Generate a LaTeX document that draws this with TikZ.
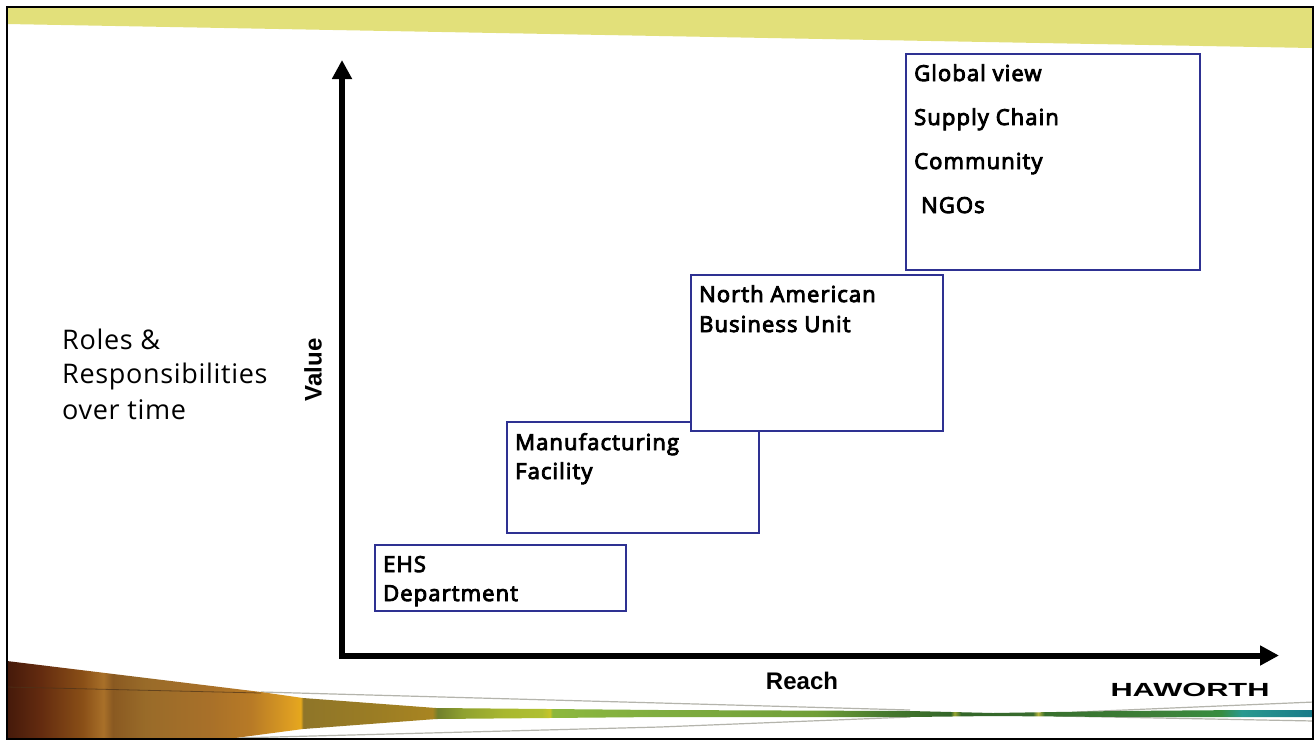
\documentclass[tikz,border=0pt]{standalone}
\usepackage{fontspec}
\usetikzlibrary{arrows.meta}
\setmainfont{Open Sans}
\newfontfamily\labelfont{Liberation Sans}
\newfontfamily\boxfont[FakeBold=4,LetterSpace=5]{Open Sans}
\newfontfamily\sidefont[LetterSpace=2.5]{Open Sans}
\definecolor{boxblue}{HTML}{2E3192}
\definecolor{topband}{HTML}{E2E07A}
\definecolor{wireg}{HTML}{B4B4AC}
\pgfdeclarehorizontalshading{bandshade}{100bp}{%
rgb(0bp)=(0.27,0.10,0.04);
rgb(25bp)=(0.27,0.10,0.04);
rgb(26.3bp)=(0.39,0.17,0.06);
rgb(27.9bp)=(0.54,0.31,0.09);
rgb(28.7bp)=(0.66,0.44,0.16);
rgb(29.05bp)=(0.54,0.35,0.13);
rgb(30.3bp)=(0.60,0.42,0.16);
rgb(32.75bp)=(0.66,0.44,0.16);
rgb(34.35bp)=(0.72,0.48,0.15);
rgb(36bp)=(0.88,0.63,0.13);
rgb(36.25bp)=(0.90,0.66,0.11);
rgb(36.35bp)=(0.56,0.46,0.16);
rgb(39.2bp)=(0.61,0.49,0.14);
rgb(41.3bp)=(0.66,0.52,0.13);
rgb(41.5bp)=(0.44,0.50,0.17);
rgb(42.45bp)=(0.56,0.63,0.19);
rgb(44.05bp)=(0.66,0.72,0.19);
rgb(45.5bp)=(0.69,0.75,0.19);
rgb(45.8bp)=(0.78,0.77,0.16);
rgb(45.9bp)=(0.55,0.72,0.24);
rgb(50bp)=(0.50,0.68,0.25);
rgb(56bp)=(0.44,0.62,0.22);
rgb(58.5bp)=(0.28,0.48,0.18);
rgb(61.15bp)=(0.20,0.40,0.16);
rgb(61.3bp)=(0.60,0.65,0.20);
rgb(61.55bp)=(0.20,0.40,0.16);
rgb(64.3bp)=(0.22,0.42,0.18);
rgb(64.5bp)=(0.70,0.70,0.24);
rgb(64.75bp)=(0.22,0.44,0.18);
rgb(69bp)=(0.24,0.50,0.22);
rgb(71.5bp)=(0.22,0.55,0.25);
rgb(72.3bp)=(0.16,0.60,0.56);
rgb(75bp)=(0.10,0.48,0.54);
rgb(100bp)=(0.10,0.48,0.54)}
\tikzset{
  stepbox/.style={draw=boxblue,line width=1.5pt,fill=white},
  axisline/.style={line width=6pt,{Triangle[length=19pt,width=19pt]}-{Triangle[length=19pt,width=19pt]}},
  boxtext/.style={anchor=base west,inner sep=0pt,font=\boxfont\fontsize{22}{29}\selectfont},
  sidetext/.style={anchor=base west,inner sep=0pt,font=\sidefont\fontsize{27}{35}\selectfont},
  axislabel/.style={inner sep=0pt,font=\labelfont\fontsize{24}{25}\selectfont\bfseries},
  wire/.style={draw=wireg,line width=1.2pt}
}
\begin{document}
\begin{tikzpicture}[x=1pt,y=-1pt]
\useasboundingbox (0,0) rectangle (1314,740);
\fill[white] (0,0) rectangle (1314,740);
% top band
\fill[topband] (7,6) -- (1312,6) -- (1312,48) -- (7,24) -- cycle;
% thin lines
\draw[wire] (261,692) -- (660,703) -- (910,710);
\draw[wire] (235,738) -- (660,727) -- (910,717);
\draw[wire] (1077,712) -- (1314,702);
\draw[wire] (1056,716) -- (1314,721);
% bottom band
\begin{scope}
\clip (7,661) -- (261,692) -- (303,698) -- (436,708) -- (660,710) -- (910,711) -- (993,713) -- (1118,711) -- (1243,710) -- (1312,710)
  -- (1312,717) -- (1243,717) -- (1118,717) -- (993,716) -- (910,717) -- (660,717) -- (436,719) -- (303,729) -- (235,738) -- (7,738) -- cycle;
\shade[shading=bandshade] (7,655) rectangle (1312,740);
\draw[black!60!brown,opacity=.7,line width=.8pt] (7,687) -- (261,693);
\end{scope}
% frame
\draw[black,line width=2pt] (7,6.5) -- (1312.5,6.5) -- (1312.5,738.5) -- (7,738.5) -- cycle;
% axes
\coordinate (ytop) at (342,60);
\coordinate (xend) at (1279,655.5);
\draw[axisline] (ytop) |- (xend);
% boxes
\node[stepbox,inner sep=0pt] (g) at (1053,162) {\tikz\path (0,0) rectangle (294pt,216pt);};
\node[stepbox,inner sep=0pt] (m) at (633,477.5) {\tikz\path (0,0) rectangle (252pt,111pt);};
\node[stepbox,inner sep=0pt] (n) at (817,353) {\tikz\path (0,0) rectangle (252pt,156pt);};
\node[stepbox,inner sep=0pt] (e) at (500.5,578) {\tikz\path (0,0) rectangle (251pt,66pt);};
% box text
\node[boxtext] (t1) at (914,81) {Global view};
\node[boxtext] (t2) at (914,125) {Supply Chain};
\node[boxtext] (t3) at (914,169) {Community};
\node[boxtext] (t4) at (921,213) {NGOs};
\node[boxtext] (t5) at (699,302) {North American};
\node[boxtext] (t6) at (699,332) {Business Unit};
\node[boxtext] (t7) at (515,450) {Manufacturing};
\node[boxtext] (t8) at (515,479) {Facility};
\node[boxtext] (t9) at (383,572) {EHS};
\node[boxtext] (t10) at (383,601) {Department};
% side text
\node[sidetext] (s1) at (62,349) {Roles \&};
\node[sidetext] (s2) at (62,383) {Responsibilities};
\node[sidetext] (s3) at (62,419) {over time};
% axis labels
\node[axislabel,rotate=90] (v) at (313,370) {Value};
\node[axislabel] (r) at (802,681) {Reach};
% logo
\node[inner sep=0pt,font=\labelfont\fontsize{19}{19}\selectfont\bfseries,xscale=1.62] (logo) at (1190,690) {HAWORTH};
\end{tikzpicture}
\end{document}
